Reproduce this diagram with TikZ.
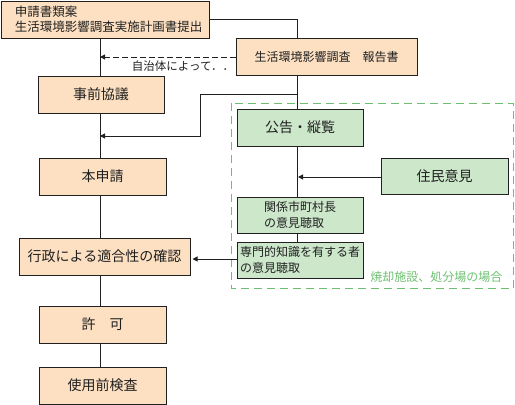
\documentclass[tikz,border=0pt]{standalone}
\usepackage{fontspec}
\setmainfont{Noto Sans CJK JP}
\usetikzlibrary{arrows.meta}
\definecolor{peach}{HTML}{FDE0C2}
\definecolor{lgreen}{HTML}{CDE7CB}
\definecolor{dgreen}{HTML}{6CC070}
\definecolor{ink}{HTML}{202020}
\tikzset{
  x=1pt,y=-1pt,
  obox/.style={draw=ink,line width=1pt,fill=peach,minimum height=37pt,inner sep=0pt,text=ink,font=\fontsize{14}{16}\selectfont},
  gbox/.style={draw=ink,line width=1pt,fill=lgreen,minimum width=126pt,minimum height=36pt,inner sep=0pt,text=ink,font=\fontsize{14}{16}\selectfont},
  conn/.style={draw=ink,line width=1pt},
  arr/.style={conn,-{Triangle[length=5pt,width=5pt]}},
}
\begin{document}
\begin{tikzpicture}
\useasboundingbox (0,0) rectangle (515,405);
% green dashed region
\draw[dgreen,line width=1pt,dash pattern=on 8pt off 5pt] (231,103) rectangle (513.5,288);
\node[dgreen,font=\fontsize{12}{14}\selectfont,anchor=east] (gl) at (506,277) {焼却施設、処分場の場合};
% orange boxes
\node[obox,minimum width=208pt,text width=180pt,inner xsep=14pt,align=left,font=\fontsize{12.5}{15}\selectfont] (b1) at (105,19.5) {申請書類案\\生活環境影響調査実施計画書提出};
\node[obox,minimum width=181pt,font=\fontsize{12}{14}\selectfont] (b2) at (326.5,56.5) {生活環境影響調査\quad 報告書};
\node[obox,minimum width=126pt] (pre) at (101,94.5) {事前協議};
\node[obox,minimum width=127pt] (hon) at (102.5,176.5) {本申請};
\node[obox,minimum width=171pt] (gyo) at (104.5,256.5) {行政による適合性の確認};
\node[obox,minimum width=127pt] (kyo) at (102.5,324.5) {許\quad 可};
\node[obox,minimum width=127pt] (shi) at (102.5,385.5) {使用前検査};
% green boxes
\node[gbox,minimum height=37pt] (kok) at (300,127.5) {公告・縦覧};
\node[gbox,minimum width=127pt] (jum) at (444.5,176) {住民意見};
\node[gbox,align=left,font=\fontsize{12}{16}\selectfont] (kan) at (300,215) {関係市町村長\\の意見聴取};
\node[gbox,align=left,font=\fontsize{12}{16}\selectfont] (sen) at (300,260) {専門的知識を有する者\\の意見聴取};
% coordinates
\coordinate (mx) at (100,0);
\coordinate (rx) at (297,0);
\coordinate (t1) at (297,19);
\coordinate (br1) at (297,94);
\coordinate (br2) at (200,94);
\coordinate (br3) at (200,136);
\coordinate (br4) at (100,136);
% main column
\draw[conn] (b1.south -| mx) -- (pre.north -| mx);
\draw[conn] (pre.south -| mx) -- (hon.north -| mx);
\draw[conn] (hon.south -| mx) -- (gyo.north -| mx);
\draw[conn] (gyo.south -| mx) -- (kyo.north -| mx);
\draw[conn] (kyo.south -| mx) -- (shi.north -| mx);
% right column
\draw[conn] (b1.east |- t1) -- (t1) -- (b2.north -| rx);
\draw[conn] (b2.south -| rx) -- (kok.north -| rx);
\draw[conn] (kok.south -| rx) -- (kan.north -| rx);
\draw[conn] (kan.south -| rx) -- (sen.north -| rx);
\draw[arr] (br1) -- (br2) -- (br3) -- (br4);
\draw[arr,dash pattern=on 6pt off 3pt] (b2.west |- 0,57) -- (100,57);
\draw[arr] (jum.west |- 0,177) -- (298,177);
\draw[arr] (sen.west |- 0,259) -- ([xshift=2pt]gyo.east |- 0,259);
\node[text=ink,font=\fontsize{11.5}{13}\selectfont] (jl) at (183,66.5) {自治体によって．．};
\end{tikzpicture}
\end{document}
